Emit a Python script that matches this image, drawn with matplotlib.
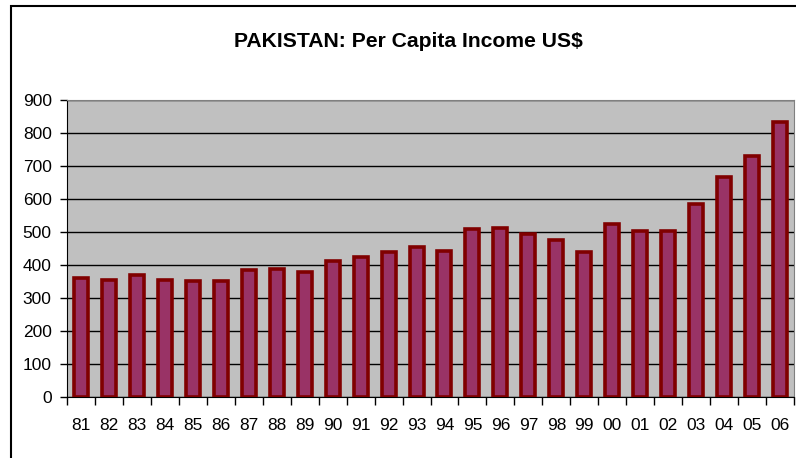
import matplotlib
matplotlib.use("Agg")
import matplotlib.pyplot as plt
from matplotlib.patches import Rectangle
import numpy as np

plt.rcParams['font.family'] = ['Liberation Sans', 'DejaVu Sans']

# fiscal years and per capita income (US$)
years = ['81', '82', '83', '84', '85', '86', '87', '88', '89', '90', '91', '92', '93',
         '94', '95', '96', '97', '98', '99', '00', '01', '02', '03', '04', '05', '06']
income = [360, 356, 370, 356, 351, 351, 384, 388, 379, 411, 424, 438, 454,
          443, 508, 512, 493, 475, 438, 525, 502, 502, 585, 667, 731, 832]

fig = plt.figure(figsize=(7.96, 4.58), dpi=100)
ax = fig.add_axes([67 / 796, 61 / 458, 727 / 796, 297 / 458])

x = np.arange(len(years))
ax.bar(x, income, width=0.5, color='#993366', edgecolor='#800000', linewidth=2.6, zorder=3)

ax.set_facecolor('#c0c0c0')
ax.set_xlim(-0.5, len(years) - 0.5)
ax.set_ylim(0, 900)
ax.set_yticks(range(0, 901, 100))
ax.yaxis.grid(True, color='black', linewidth=1)
ax.set_axisbelow(True)

# labels at the centres, tick marks between categories
ax.set_xticks(x)
ax.set_xticklabels(years)
ax.set_xticks(np.arange(-0.5, len(years)), minor=True)
ax.tick_params(axis='x', which='major', length=0, pad=15, labelsize=12.5)
ax.tick_params(axis='x', which='minor', length=6, width=1, color='black')
ax.tick_params(axis='y', length=5, width=1, pad=6, labelsize=12.5)

for side in ['top', 'right']:
    ax.spines[side].set_color('#808080')
for side in ['left', 'bottom']:
    ax.spines[side].set_color('black')

fig.text(0.513, 1 - 47 / 458, 'PAKISTAN: Per Capita Income US$', ha='center', va='baseline',
         fontsize=15.2, fontweight='bold')

# chart border
fig.patches.append(Rectangle((11 / 796, -0.05), 1.0, 1 - 6 / 458 + 0.05, transform=fig.transFigure,
                             fill=False, edgecolor='black', linewidth=1.5))

fig.savefig('out.png', dpi=100)
